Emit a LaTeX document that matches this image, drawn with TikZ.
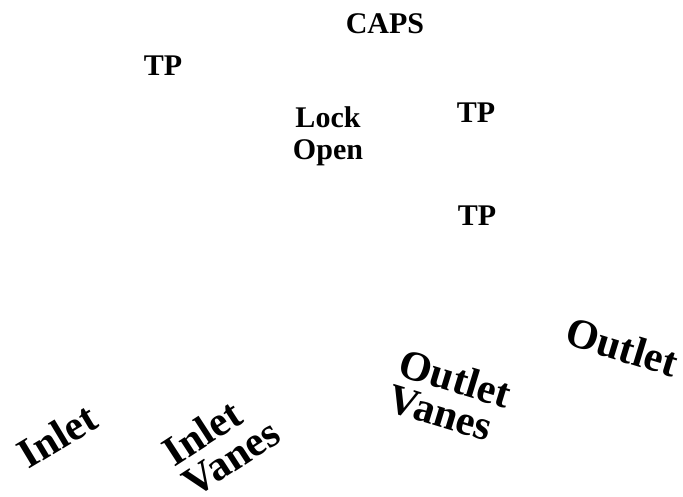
\documentclass[tikz,border=0pt]{standalone}
\usepackage{fontspec}
\setmainfont{Liberation Serif}
\begin{document}
\begin{tikzpicture}[
        x=1pt, y=1pt,
        tag/.style={font=\fontsize{30}{32}\selectfont\bfseries, align=center, inner sep=0pt},
        part/.style={font=\fontsize{42}{37}\selectfont\bfseries, align=left, inner sep=0pt}
    ]
        \useasboundingbox (0, 0) rectangle (683, 497);

        % Upper labels
        \node[tag] (caps) at (385, 473) {CAPS};
        \node[tag] (tpa) at (163, 431) {TP};
        \node[tag] (lock) at (328, 361) {Lock\\Open};
        \node[tag] (tpb) at (476, 384) {TP};
        \node[tag] (tpc) at (477, 281) {TP};

        % Rotated part names
        \node[part, rotate=31] (inlet) at (57, 61) {Inlet};
        \node[part, rotate=33] (invanes) at (221, 55) {Inlet\\Vanes};
        \node[part, rotate=-17] (outvanes) at (450, 101) {Outlet\\Vanes};
        \node[part, rotate=-17] (outlet) at (622, 150) {Outlet};
    \end{tikzpicture}
\end{document}
